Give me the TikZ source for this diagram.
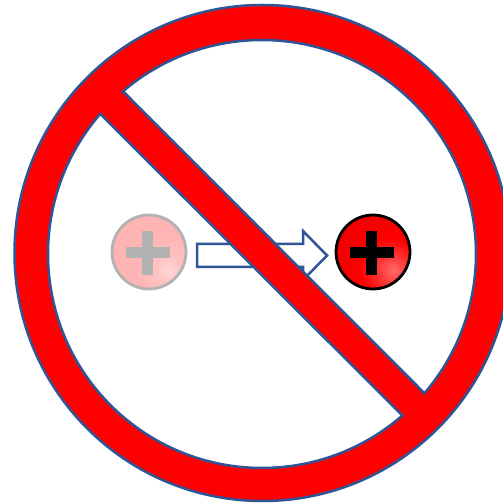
\documentclass[tikz,border=0pt]{standalone}
\usetikzlibrary{calc}
\definecolor{edgeblue}{HTML}{2F5597}
\pgfdeclareradialshading{ballred}{\pgfpoint{14bp}{-13bp}}{%
  color(0bp)=(white!42!red); color(9bp)=(white!22!red); color(20bp)=(red); color(36bp)=(red!94!black); color(50bp)=(red!68!black); color(100bp)=(red!68!black)}
\pgfdeclareradialshading{ballpale}{\pgfpoint{14bp}{-13bp}}{%
  color(0bp)=(white!84!red); color(9bp)=(white!76!red); color(20bp)=(white!71!red); color(36bp)=(white!70!red); color(50bp)=(white!62!red); color(100bp)=(white!62!red)}
\tikzset{
  ringshape/.style={fill=red,draw=edgeblue,line width=2.5pt,even odd rule,line join=miter},
  arrowshape/.style={fill=white,draw=edgeblue,line width=2.5pt,line join=miter},
  redrim/.style={draw=black,line width=2.8pt},
  palerim/.style={draw=black!30,line width=2.8pt},
  redplus/.style={fill=black},
  paleplus/.style={fill=black!30}
}
\begin{document}
\begin{tikzpicture}[x=1pt,y=1pt]
\useasboundingbox (0,0) rectangle (503,503);
\clip (0,0) rectangle (503,503);
\fill[white] (0,0) rectangle (503,503);
% arrow
\draw[arrowshape] (197,259) -- (303,259) -- (303,272) -- (327,247.5) -- (303,223) -- (303,236) -- (197,236) -- cycle;
% pale ball
\shade[shading=ballpale] (149,251) circle[radius=37];
\draw[palerim] (149,251) circle[radius=37];
\fill[paleplus] (126,256) rectangle (170,245);
\fill[paleplus] (142,272) rectangle (153,228);
% red ball
\shade[shading=ballred] (373,251) circle[radius=37];
\draw[redrim] (373,251) circle[radius=37];
\fill[redplus] (350,256) rectangle (394,245);
\fill[redplus] (366,272) rectangle (377,228);
% prohibition sign
\draw[ringshape]
  (262.5,250) circle[radius=248]
  ($(262,249)+(130.5:214)$) arc[start angle=130.5,end angle=-40.6,radius=214] -- cycle
  ($(262,249)+(139.1:214)$) arc[start angle=139.1,end angle=311,radius=214] -- cycle;
\end{tikzpicture}
\end{document}
